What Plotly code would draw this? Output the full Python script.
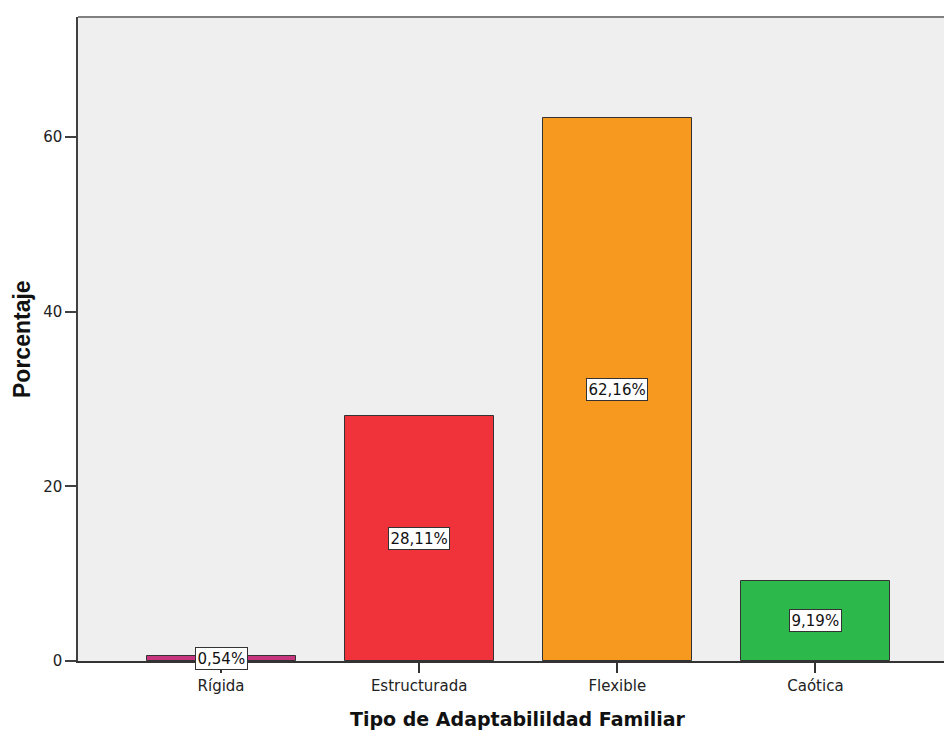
import plotly.graph_objects as go

categories = ["Rígida", "Estructurada", "Flexible", "Caótica"]
percentages = [0.54, 28.11, 62.16, 9.19]
bar_colors = ["#c8357f", "#f0323a", "#f8991f", "#2db84b"]
y_ticks = [0, 20, 40, 60]
x_title = "Tipo de Adaptabilildad Familiar"
y_title = "Porcentaje"

W, H = 944, 733
L, T, B = 78, 17, 661
plot_w = W - L
plot_h = B - T

fig = go.Figure()
fig.add_trace(go.Bar(
    x=categories,
    y=percentages,
    width=0.7525,
    marker=dict(color=bar_colors, line=dict(color="#333333", width=1)),
    hoverinfo="skip",
    showlegend=False,
))

for c, v in zip(categories, percentages):
    fig.add_annotation(
        x=c, y=v / 2, xref="x", yref="y",
        text=f"{v:.2f}".replace(".", ",") + "%",
        showarrow=False,
        font=dict(family="DejaVu Sans", size=15, color="#111111"),
        bgcolor="white", bordercolor="#333333", borderwidth=1, borderpad=1.5,
        xanchor="center", yanchor="middle",
    )

# axis titles
fig.add_annotation(
    x=(517.5 - L) / plot_w, y=-(719 - B) / plot_h, xref="paper", yref="paper",
    text=f"<b>{x_title}</b>", showarrow=False,
    font=dict(family="DejaVu Sans", size=19, color="#111111"),
    xanchor="center", yanchor="middle",
)
fig.add_annotation(
    x=-(L - 22) / plot_w, y=(B - 339) / plot_h, xref="paper", yref="paper",
    text=f"<b>{y_title}</b>", showarrow=False, textangle=-90,
    font=dict(family="Liberation Sans, Arial", size=23, color="#111111"),
    xanchor="center", yanchor="middle",
)

# top border
fig.add_shape(type="line", xref="paper", yref="paper", x0=0, x1=1, y0=1, y1=1,
              line=dict(color="#808080", width=2))

fig.update_layout(
    width=W, height=H,
    margin=dict(l=L, r=0, t=T, b=H - B, pad=0),
    paper_bgcolor="white",
    plot_bgcolor="#efefef",
    bargap=0,
    xaxis=dict(
        type="category",
        range=[-0.722, 3.649],
        showline=True, linecolor="#333333", linewidth=1.5,
        ticks="outside", ticklen=10, tickcolor="#333333", tickwidth=1.5,
        tickfont=dict(family="DejaVu Sans", size=15, color="#222222"),
        showgrid=False, zeroline=False,
    ),
    yaxis=dict(
        range=[0, 73.74],
        tickvals=y_ticks,
        showline=True, linecolor="#404040", linewidth=1.5,
        ticks="outside", ticklen=11, tickcolor="#404040", tickwidth=1.5,
        tickfont=dict(family="DejaVu Sans", size=15, color="#222222"),
        showgrid=False, zeroline=False,
    ),
)

fig.write_html(
    "out.html",
    config={"displayModeBar": False},
    post_script="document.body.style.margin='0';document.body.style.overflow='hidden';",
)
